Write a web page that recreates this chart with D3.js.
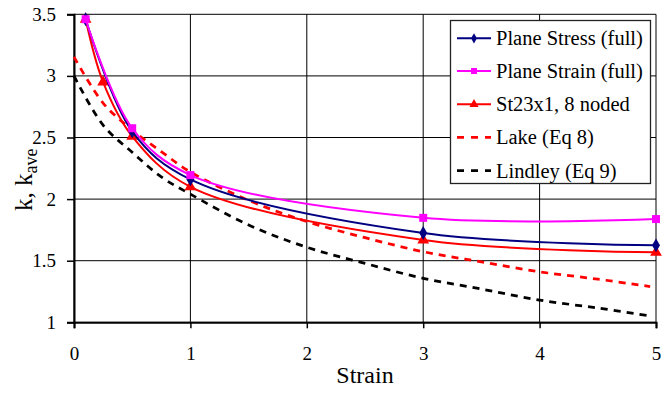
<!DOCTYPE html>
<html>
<head>
<meta charset="utf-8">
<script src="https://cdn.jsdelivr.net/npm/d3@7"></script>
<style>
  body { margin: 0; background: #fff; }
  text { font-family: "Liberation Serif", "Times New Roman", serif; fill: #000; }
</style>
</head>
<body>
<div id="chartDiv"></div>
<script>
// strain values and k readings for each series
var stressX = [0.1, 0.5, 1, 3, 5];
var stressY = [3.46, 2.55, 2.16, 1.725, 1.625];

var strainX = [0.1, 0.5, 1, 3, 5];
var strainY = [3.46, 2.575, 2.195, 1.848, 1.838];

var st23X = [0.1, 0.25, 0.5, 1, 3, 5];
var st23Y = [3.46, 2.95, 2.51, 2.10, 1.668, 1.568];

var lakeX = [0, 0.25, 0.5, 0.75, 1, 1.5, 2, 2.5, 3, 3.5, 4, 4.5, 4.95];
var lakeY = [3.155, 2.78, 2.56, 2.385, 2.22, 1.99, 1.818, 1.687, 1.573, 1.49, 1.41, 1.35, 1.29];

var lindX = [0, 0.25, 0.5, 0.75, 1, 1.5, 2, 2.5, 3, 3.5, 4, 4.5, 4.95];
var lindY = [3.0, 2.6, 2.38, 2.18, 2.04, 1.79, 1.609, 1.478, 1.357, 1.27, 1.18, 1.116, 1.051];

var xTicks = [0, 1, 2, 3, 4, 5];
var yTicks = [1, 1.5, 2, 2.5, 3, 3.5];

var legendNames = ["Plane Stress (full)", "Plane Strain (full)", "St23x1, 8 noded", "Lake (Eq 8)", "Lindley (Eq 9)"];

var width = 662, height = 394;
var plot = { left: 74, right: 656, top: 14.3, bottom: 322.3 };

var svg = d3.select("#chartDiv").append("svg")
	.attr("width", width)
	.attr("height", height);

var xScale = d3.scaleLinear().domain([0, 5]).range([plot.left, plot.right]);
var yScale = d3.scaleLinear().domain([1, 3.5]).range([plot.bottom, plot.top]);

// grid
svg.append("g").selectAll("line")
	.data(yTicks).enter().append("line")
	.attr("x1", plot.left).attr("x2", plot.right)
	.attr("y1", function(d) { return yScale(d); })
	.attr("y2", function(d) { return yScale(d); })
	.attr("stroke", "#000").attr("stroke-width", 1);

svg.append("g").selectAll("line")
	.data(xTicks).enter().append("line")
	.attr("y1", plot.top).attr("y2", plot.bottom)
	.attr("x1", function(d) { return xScale(d); })
	.attr("x2", function(d) { return xScale(d); })
	.attr("stroke", "#000").attr("stroke-width", 1);

// axes
var xAxis = d3.axisBottom(xScale).tickValues(xTicks).tickSize(6).tickPadding(18)
	.tickFormat(function(d) { return String(d); });
var yAxis = d3.axisLeft(yScale).tickValues(yTicks).tickSize(7).tickPadding(11)
	.tickFormat(function(d) { return String(d); });

var gx = svg.append("g")
	.attr("transform", "translate(0," + plot.bottom + ")")
	.call(xAxis);
var gy = svg.append("g")
	.attr("transform", "translate(" + plot.left + ",0)")
	.call(yAxis);

[gx, gy].forEach(function(g) {
	g.attr("font-family", null);
	g.select(".domain").attr("stroke", "#000").attr("stroke-width", 2);
	g.selectAll(".tick line").attr("stroke", "#000").attr("stroke-width", 1.5);
	g.selectAll(".tick text")
		.style("font-size", "19px")
		.attr("fill", "#000");
});

// axis titles
svg.append("text")
	.attr("x", 365).attr("y", 383)
	.attr("text-anchor", "middle")
	.style("font-size", "24px")
	.text("Strain");

var yTitle = svg.append("text")
	.attr("transform", "translate(32,211) rotate(-90)")
	.attr("text-anchor", "start")
	.style("font-size", "25px");
yTitle.append("tspan").text("k, k");
yTitle.append("tspan").attr("dy", 5).style("font-size", "18px").text("ave");

// series
var smooth = d3.line()
	.x(function(d) { return xScale(d[0]); })
	.y(function(d) { return yScale(d[1]); })
	.curve(d3.curveCatmullRom.alpha(0.5));

function pairs(xs, ys) { return xs.map(function(x, i) { return [x, ys[i]]; }); }

var series = [
	{ pts: pairs(lindX, lindY), color: "#000", dash: "7,6", w: 2.75, sym: null },
	{ pts: pairs(lakeX, lakeY), color: "#ff0000", dash: "7,6", w: 2.75, sym: null },
	{ pts: pairs(st23X, st23Y), color: "#ff0000", dash: null, w: 2, sym: d3.symbolTriangle, size: 60 },
	{ pts: pairs(stressX, stressY), color: "#000080", dash: null, w: 2, sym: d3.symbolDiamond, size: 55 },
	{ pts: pairs(strainX, strainY), color: "#ff00ff", dash: null, w: 2, sym: d3.symbolSquare, size: 64 }
];

series.forEach(function(s) {
	svg.append("path")
		.datum(s.pts)
		.attr("d", smooth)
		.attr("fill", "none")
		.attr("stroke", s.color)
		.attr("stroke-width", s.w)
		.attr("stroke-dasharray", s.dash);
	if (s.sym) {
		svg.append("g").selectAll("path")
			.data(s.pts).enter().append("path")
			.attr("d", d3.symbol().type(s.sym).size(s.size))
			.attr("transform", function(d) { return "translate(" + xScale(d[0]) + "," + yScale(d[1]) + ")"; })
			.attr("fill", s.color);
	}
});

// legend
var legend = svg.append("g");
legend.append("rect")
	.attr("x", 450.5).attr("y", 20.5)
	.attr("width", 200).attr("height", 163)
	.attr("fill", "#fff").attr("stroke", "#222").attr("stroke-width", 1.3);

var legendStyle = [
	{ color: "#000080", dash: null, sym: d3.symbolDiamond, size: 30 },
	{ color: "#ff00ff", dash: null, sym: d3.symbolSquare, size: 36 },
	{ color: "#ff0000", dash: null, sym: d3.symbolTriangle, size: 36 },
	{ color: "#ff0000", dash: "7,7", sym: null },
	{ color: "#000", dash: "7,7", sym: null }
];
var rowY = [38.3, 71, 104.3, 137.3, 170.7];

legendNames.forEach(function(name, i) {
	var st = legendStyle[i];
	legend.append("line")
		.attr("x1", 457).attr("x2", 491)
		.attr("y1", rowY[i]).attr("y2", rowY[i])
		.attr("stroke", st.color)
		.attr("stroke-width", st.dash ? 2.75 : 2)
		.attr("stroke-dasharray", st.dash);
	if (st.sym) {
		legend.append("path")
			.attr("d", d3.symbol().type(st.sym).size(st.size))
			.attr("transform", "translate(474," + rowY[i] + ")")
			.attr("fill", st.color);
	}
	legend.append("text")
		.attr("x", 496).attr("y", rowY[i])
		.attr("dy", "0.35em")
		.style("font-size", "20.5px")
		.text(name);
});
</script>
</body>
</html>
